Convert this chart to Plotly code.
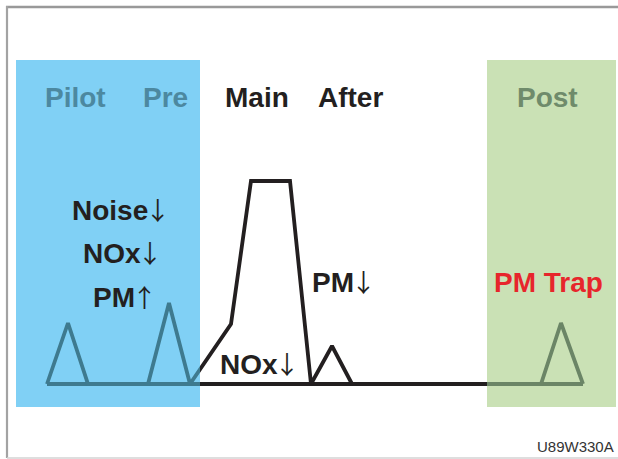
import plotly.graph_objects as go

# ---- data -------------------------------------------------------------
stage_labels = ["Pilot", "Pre", "Main", "After", "Post"]
pilot_pre_effects = ["Noise↓", "NOx↓", "PM↑"]
main_effects = ["NOx↓", "PM↓"]
post_effect = "PM Trap"
figure_code = "U89W330A"

# injection-rate waveform (time units, rate units)
wave_t = [47, 68, 88, 148, 169, 190, 231, 251, 290, 311, 332, 352, 541, 561, 583]
wave_rate = [0, 61, 0, 0, 81, 0, 60, 203, 203, 0, 38, 0, 0, 61, 0]
base_t = [47, 583]
base_rate = [0, 0]

# shaded zones (time range, rate range)
blue_zone_t = [16, 200]
green_zone_t = [487, 616]
zone_rate = [-23, 324]

# ---- figure ----------------------------------------------------------
W, H = 618, 459
fig = go.Figure()

regions = [
    ("x", "#3E7A8F"),
    ("x2", "#231F20"),
    ("x3", "#6B8566"),
]
for xa, col in regions:
    for tx, ty in ((base_t, base_rate), (wave_t, wave_rate)):
        fig.add_trace(go.Scatter(
            x=tx, y=ty, xaxis=xa, yaxis="y", mode="lines",
            line=dict(color=col, width=3.8),
            hoverinfo="skip", showlegend=False,
        ))

fig.update_layout(
    width=W, height=H,
    margin=dict(l=0, r=0, t=0, b=0),
    paper_bgcolor="white",
    plot_bgcolor="rgba(0,0,0,0)",
    xaxis=dict(domain=[0, 200 / W], range=[0, 200], visible=False, anchor="y"),
    xaxis2=dict(domain=[200 / W, 487 / W], range=[200, 487], visible=False, anchor="y"),
    xaxis3=dict(domain=[487 / W, 1], range=[487, 618], visible=False, anchor="y"),
    yaxis=dict(domain=[0, 1], range=[-75, 384], visible=False),
)

# shaded zones
fig.add_shape(type="rect", xref="x", yref="y",
              x0=blue_zone_t[0], x1=blue_zone_t[1], y0=zone_rate[0], y1=zone_rate[1],
              fillcolor="#80D0F5", line=dict(width=0), layer="below")
fig.add_shape(type="rect", xref="x3", yref="y",
              x0=green_zone_t[0], x1=green_zone_t[1], y0=zone_rate[0], y1=zone_rate[1],
              fillcolor="#CAE1B5", line=dict(width=0), layer="below")

# frame lines
def px(x):
    return x / W

def py(y):
    return 1 - y / H

fig.add_shape(type="line", xref="paper", yref="paper", x0=px(6), x1=px(618), y0=py(7), y1=py(7),
              line=dict(color="#999999", width=2.4))
fig.add_shape(type="line", xref="paper", yref="paper", x0=px(7), x1=px(7), y0=py(6), y1=py(458),
              line=dict(color="#A3A3A3", width=2.2))
fig.add_shape(type="line", xref="paper", yref="paper", x0=px(7), x1=px(618), y0=py(458), y1=py(458),
              line=dict(color="#D3D3D3", width=1.5))

FONT = "Liberation Sans, Arial, sans-serif"

def label(text, x, y, color, size=28, weight="bold", anchor="center"):
    fig.add_annotation(text=text, xref="paper", yref="paper", x=px(x), y=py(y),
                       xanchor=anchor, yanchor="middle", showarrow=False,
                       font=dict(family=FONT, size=size, color=color, weight=weight))

def arrowize(s):
    a = s[-1]
    body = s[:-1]
    body = body[:-1] + "<span style='letter-spacing:-3px'>" + body[-1] + "</span>"
    return (body + "<span style='font-weight:normal;font-family:\"Noto Sans CJK JP\";font-size:25px'>"
            + a + "</span>")

stage_pos = [(75, 98), (166, 98), (257, 98), (350, 98), (547, 98)]
stage_col = ["#4C88A0", "#4C88A0", "#231F20", "#231F20", "#6F8B6B"]
for t, (x, y), c in zip(stage_labels, stage_pos, stage_col):
    label(t, x, y, c)

for t, (x, y) in zip(pilot_pre_effects, [(70, 209), (81, 252), (91, 296)]):
    label(arrowize(t), x, y, "#231F20", anchor="left")

for t, (x, y) in zip(main_effects, [(218, 363), (310, 281)]):
    label(arrowize(t), x, y, "#231F20", anchor="left")

label(post_effect, 548, 282, "#E7252B")
label(figure_code, 575, 446, "#333333", size=15, weight="normal")

fig.write_html("out.html", config={"displayModeBar": False},
               post_script="document.body.style.margin='0px';document.body.style.overflow='hidden';")
